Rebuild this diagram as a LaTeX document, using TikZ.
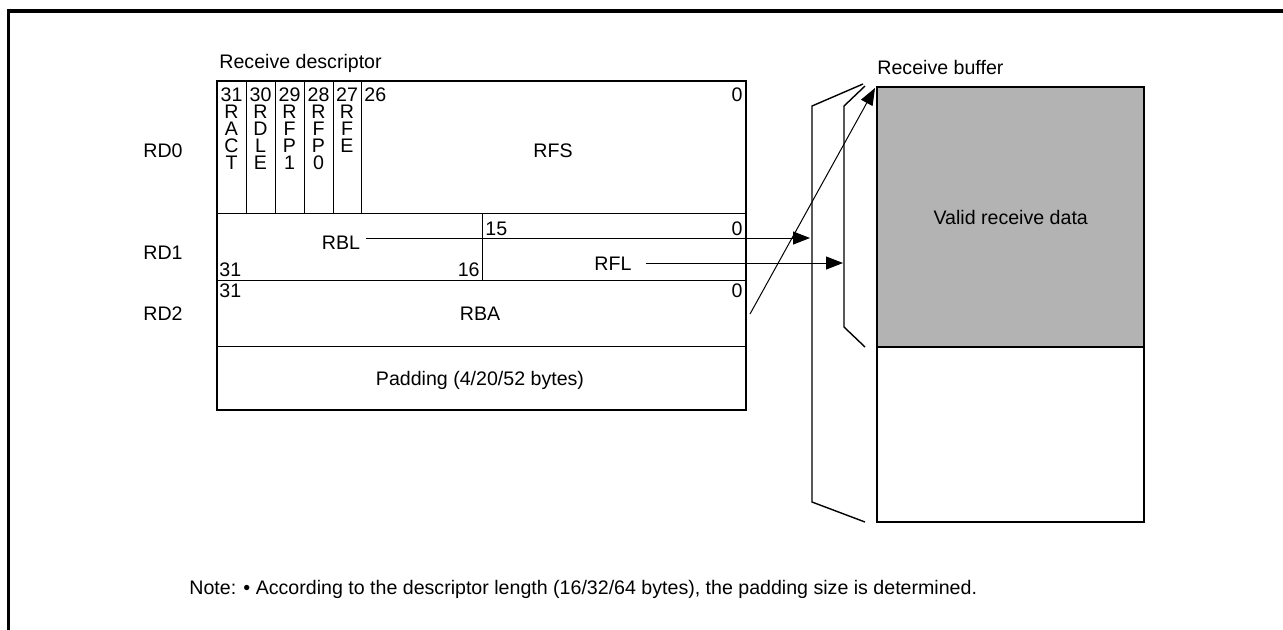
\documentclass[tikz,border=0pt]{standalone}
\usepackage{fontspec}
\setmainfont{Liberation Sans}
\usetikzlibrary{arrows.meta}
\definecolor{bufgray}{RGB}{179,179,179}
\begin{document}
\begin{tikzpicture}[x=0.5pt,y=-0.5pt,
  txt/.style={inner sep=0pt, font=\fontsize{9.8}{11}\selectfont},
  thinline/.style={line width=0.5pt},
  outerline/.style={line width=1.2pt},
  arr/.style={line width=0.5pt, -{Triangle[length=8.5pt,width=6.5pt]}},
  bracket/.style={line width=0.7pt, line join=miter},
  bufbox/.style={draw, line width=1.2pt, minimum width=133.5pt, inner sep=0pt, txt},
]
\useasboundingbox (0,0) rectangle (1283,629);
% frame
\draw[line width=1.6pt] (8.5,640) -- (8.5,11) -- (1290,11);

% descriptor structure
\node[txt, anchor=base west] (title) at (219,68) {Receive descriptor};
\draw[thinline] (217,213) -- (746,213);
\draw[thinline] (217,280) -- (746,280);
\draw[thinline] (217,346) -- (746,346);
\draw[thinline] (482,213) -- (482,280);
\foreach \x in {246,275,304,333,361} \draw[thinline] (\x,81) -- (\x,213);
\draw[outerline] (217,81) rectangle (746,410);

% RD0 bit columns
\node[txt, anchor=base] (b31) at (231.5,101) {31};
\node[txt, anchor=base] (b30) at (260.5,101) {30};
\node[txt, anchor=base] (b29) at (289.5,101) {29};
\node[txt, anchor=base] (b28) at (318.5,101) {28};
\node[txt, anchor=base] (b27) at (347,101) {27};
\foreach \L [count=\j] in {R,A,C,T} \node[txt, anchor=base, name=ract\j] at (231.5,{101+17*\j}) {\L};
\foreach \L [count=\j] in {R,D,L,E} \node[txt, anchor=base, name=rdle\j] at (260.5,{101+17*\j}) {\L};
\foreach \L [count=\j] in {R,F,P,1} \node[txt, anchor=base, name=rfpa\j] at (289.5,{101+17*\j}) {\L};
\foreach \L [count=\j] in {R,F,P,0} \node[txt, anchor=base, name=rfpb\j] at (318.5,{101+17*\j}) {\L};
\foreach \L [count=\j] in {R,F,E} \node[txt, anchor=base, name=rfe\j] at (347,{101+17*\j}) {\L};
\node[txt, anchor=base west] (b26) at (364,101) {26};
\node[txt, anchor=base east] (b0a) at (743,101) {0};
\node[txt, anchor=base] (rfs) at (553,157) {RFS};

% RD1
\node[txt, anchor=base west] (b15) at (485,235) {15};
\node[txt, anchor=base east] (b0b) at (743,235) {0};
\node[txt, anchor=base, inner sep=3pt] (rbl) at (341,249) {RBL};
\node[txt, anchor=base west] (b31b) at (219,276) {31};
\node[txt, anchor=base east] (b16) at (480,276) {16};
\node[txt, anchor=base] (rfl) at (613,270) {RFL};

% RD2
\node[txt, anchor=base west] (b31c) at (219,297) {31};
\node[txt, anchor=base east] (b0c) at (743,297) {0};
\node[txt, anchor=base] (rba) at (480,320) {RBA};
\node[txt, anchor=base] (pad) at (480,385) {Padding (4/20/52 bytes)};

% row labels
\node[txt, anchor=base] (rd0) at (163,157) {RD0};
\node[txt, anchor=base] (rd1) at (163,259) {RD1};
\node[txt, anchor=base] (rd2) at (163,320) {RD2};

% receive buffer
\node[txt, anchor=base west] (buflabel) at (877,74) {Receive buffer};
\node[bufbox, fill=bufgray, minimum height=130pt, anchor=north west] (valid) at (876,86) {Valid receive data};
\node[bufbox, minimum height=87.5pt, anchor=north west] (rest) at (876,346) {};
\draw[bracket] (863,84) -- (812,106) -- (812,502) -- (865,522);
\draw[bracket] (865,86) -- (844,106) -- (844,327) -- (865,347);

% connectors
\coordinate (rbltip) at (810,238);
\coordinate (rfltip) at (843,263);
\coordinate (rbaout) at (750,314);
\draw[arr] (rbl.east |- rbltip) -- (rbltip);
\draw[arr] ([xshift=7pt]rfl.east |- rfltip) -- (rfltip);
\draw[arr] (rbaout) -- ([xshift=-0.5pt,yshift=-1pt]valid.north west);

% note
\node[txt, anchor=base west] (note) at (189,594) {Note: • According to the descriptor length (16/32/64 bytes), the padding size is determined.};
\end{tikzpicture}
\end{document}
